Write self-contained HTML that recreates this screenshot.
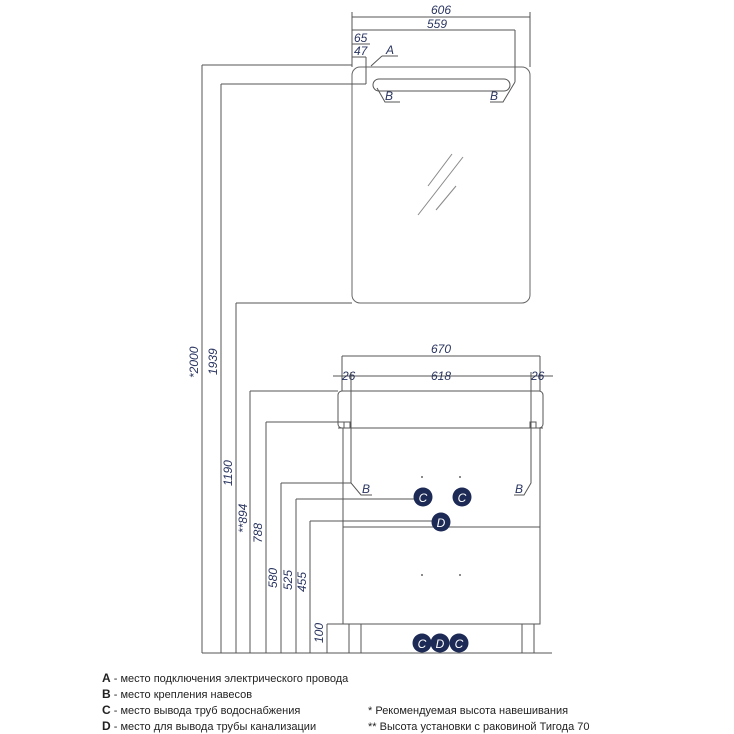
<!DOCTYPE html>
<html><head><meta charset="utf-8"><style>
html,body{margin:0;padding:0;background:#fff;}
svg{display:block;}
.l{stroke:#555;stroke-width:1;fill:none;}
.d{font-family:"Liberation Sans",sans-serif;font-style:italic;font-size:12px;fill:#2a3560;}
.c{fill:#1c2a55;}
.ct{font-family:"Liberation Sans",sans-serif;font-style:italic;font-size:12px;fill:#fff;text-anchor:middle;}
.lg{font-family:"Liberation Sans","DejaVu Sans",sans-serif;font-size:11px;fill:#222;}
</style></head><body>
<svg width="734" height="734" viewBox="0 0 734 734" xmlns="http://www.w3.org/2000/svg">
<!-- mirror -->
<rect x="352" y="67" width="178" height="236" rx="8" class="l" stroke-width="1.6" style="stroke:#666"/>
<rect x="373" y="79" width="137" height="12" rx="6" class="l"/>
<line x1="452" y1="154" x2="428" y2="186" class="l" style="stroke:#888"/>
<line x1="463" y1="157" x2="418" y2="215" class="l" style="stroke:#888"/>
<line x1="456" y1="186" x2="436" y2="210" class="l" style="stroke:#888"/>
<!-- top dims -->
<line x1="352" y1="17" x2="530" y2="17" class="l"/>
<line x1="352" y1="12" x2="352" y2="67" class="l"/>
<line x1="530" y1="12" x2="530" y2="67" class="l"/>
<text x="441" y="14" class="d" text-anchor="middle">606</text>
<line x1="352" y1="30" x2="515" y2="30" class="l"/>
<line x1="515" y1="30" x2="515" y2="82" class="l"/>
<text x="437" y="28" class="d" text-anchor="middle">559</text>
<line x1="352" y1="44" x2="370" y2="44" class="l"/>
<text x="354" y="42" class="d">65</text>
<line x1="352" y1="57" x2="366" y2="57" class="l"/>
<text x="354" y="55" class="d">47</text>
<line x1="366" y1="57" x2="366" y2="84" class="l"/>
<line x1="371" y1="66" x2="382" y2="56" class="l"/><line x1="382" y1="56" x2="398" y2="56" class="l"/>
<text x="386" y="54" class="d">A</text>
<!-- B leaders mirror -->
<polyline points="377,88 385,102 400,102" class="l"/><text x="385" y="100" class="d">B</text>
<polyline points="515,82 503,102 490,102" class="l"/><text x="490" y="100" class="d">B</text>
<!-- vertical dims -->
<g class="l">
<line x1="202" y1="65" x2="202" y2="653"/><line x1="202" y1="65" x2="352" y2="65"/>
<line x1="221" y1="84" x2="221" y2="653"/><line x1="221" y1="84" x2="366" y2="84"/>
<line x1="236" y1="303" x2="236" y2="653"/><line x1="236" y1="303" x2="352" y2="303"/>
<line x1="250" y1="391" x2="250" y2="653"/><line x1="250" y1="391" x2="338" y2="391"/>
<line x1="266" y1="422" x2="266" y2="653"/><line x1="266" y1="422" x2="345" y2="422"/>
<line x1="281" y1="483" x2="281" y2="653"/><line x1="281" y1="483" x2="351" y2="483"/>
<line x1="296" y1="499" x2="296" y2="653"/><line x1="296" y1="499" x2="414" y2="499"/>
<line x1="310" y1="521" x2="310" y2="653"/><line x1="310" y1="521" x2="432" y2="521"/>
<line x1="327" y1="624" x2="327" y2="653"/><line x1="327" y1="624" x2="343" y2="624"/>
<line x1="202" y1="653" x2="552" y2="653"/>
</g>
<g class="d">
<text transform="translate(198,378) rotate(-90)">*2000</text>
<text transform="translate(217,375) rotate(-90)">1939</text>
<text transform="translate(232,486) rotate(-90)">1190</text>
<text transform="translate(247,533) rotate(-90)">**894</text>
<text transform="translate(262,543) rotate(-90)">788</text>
<text transform="translate(277,588) rotate(-90)">580</text>
<text transform="translate(292,590) rotate(-90)">525</text>
<text transform="translate(306,592) rotate(-90)">455</text>
<text transform="translate(323,643) rotate(-90)">100</text>
</g>
<!-- cabinet -->
<line x1="342" y1="356" x2="342" y2="391" class="l"/><line x1="540" y1="356" x2="540" y2="391" class="l"/>
<line x1="342" y1="356" x2="540" y2="356" class="l"/><text x="441" y="353" class="d" text-anchor="middle">670</text>
<line x1="333" y1="376" x2="553" y2="376" class="l"/>
<text x="342" y="380" class="d">26</text><text x="441" y="380" class="d" text-anchor="middle">618</text><text x="531" y="380" class="d">26</text>
<rect x="338" y="391" width="205" height="37" rx="4" class="l"/>
<line x1="338" y1="428" x2="543" y2="428" class="l" stroke-width="1.4"/>
<rect x="343" y="428" width="197" height="196" class="l"/>
<line x1="343" y1="527" x2="540" y2="527" class="l" stroke-width="1.4"/>
<polyline points="351,372 351,483 361,495 372,495" class="l"/><text x="362" y="493" class="d">B</text>
<polyline points="531,372 531,483 524,495 514,495" class="l"/><text x="515" y="493" class="d">B</text>
<rect x="344" y="422" width="6" height="6" class="l"/><rect x="530" y="422" width="6" height="6" class="l"/>
<rect x="343" y="624" width="197" height="29" class="l" style="stroke:none"/>
<g class="l"><line x1="349" y1="624" x2="349" y2="653"/><line x1="361" y1="624" x2="361" y2="653"/><line x1="522" y1="624" x2="522" y2="653"/><line x1="534" y1="624" x2="534" y2="653"/></g>
<g fill="#666"><circle cx="422" cy="477" r="1"/><circle cx="460" cy="477" r="1"/><circle cx="422" cy="575" r="1"/><circle cx="460" cy="575" r="1"/></g>
<circle cx="423" cy="497" r="9.5" class="c"/><text x="423" y="502" class="ct">C</text>
<circle cx="462" cy="497" r="9.5" class="c"/><text x="462" y="502" class="ct">C</text>
<circle cx="441" cy="522" r="9.5" class="c"/><text x="441" y="527" class="ct">D</text>
<circle cx="422" cy="643" r="9.5" class="c"/><text x="422" y="648" class="ct">C</text>
<circle cx="459" cy="643" r="9.5" class="c"/><text x="459" y="648" class="ct">C</text>
<circle cx="440" cy="643" r="9.5" class="c"/><text x="440" y="648" class="ct">D</text>
<!-- legend -->
<g class="lg">
<text x="102" y="682"><tspan font-weight="bold" font-size="12">A</tspan> - место подключения электрического провода</text>
<text x="102" y="698"><tspan font-weight="bold" font-size="12">B</tspan> - место крепления навесов</text>
<text x="102" y="714"><tspan font-weight="bold" font-size="12">C</tspan> - место вывода труб водоснабжения</text>
<text x="102" y="730"><tspan font-weight="bold" font-size="12">D</tspan> - место для вывода трубы канализации</text>
<text x="368" y="714">* Рекомендуемая высота навешивания</text>
<text x="368" y="730">** Высота установки с раковиной Тигода 70</text>
</g>
</svg>
</body></html>
